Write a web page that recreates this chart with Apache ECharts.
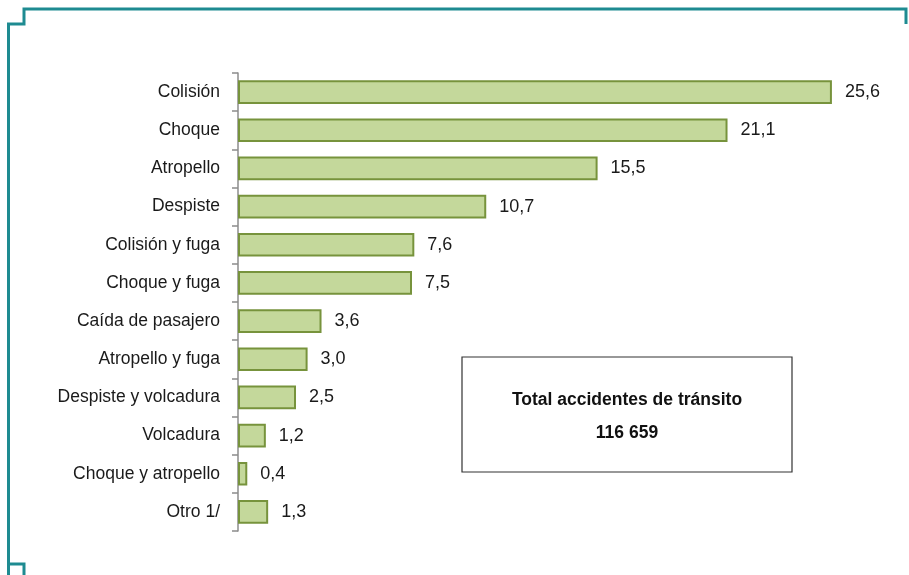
<!DOCTYPE html>
<html>
<head>
<meta charset="utf-8">
<script src="https://cdn.jsdelivr.net/npm/echarts@6/dist/echarts.min.js"></script>
<style>
  html, body { margin: 0; padding: 0; background: #fff; }
  #main { width: 909px; height: 575px; }
</style>
</head>
<body>
<div id="main"></div>
<script>
  // tipos de accidente (de arriba hacia abajo)
  const categories = ['Colisión', 'Choque', 'Atropello', 'Despiste', 'Colisión y fuga', 'Choque y fuga',
    'Caída de pasajero', 'Atropello y fuga', 'Despiste y volcadura', 'Volcadura', 'Choque y atropello', 'Otro 1/'];
  // porcentaje
  const values = [25.6, 21.1, 15.5, 10.7, 7.6, 7.5, 3.6, 3.0, 2.5, 1.2, 0.4, 1.3];
  const boxTitle = 'Total accidentes de tránsito';
  const boxTotal = '116 659';

  const teal = '#1e8b91';
  const font = '"Liberation Sans", Arial, sans-serif';
  let myChart = echarts.init(document.getElementById('main'));
  let option = {
    animation: false,
    textStyle: { fontFamily: font },
    grid: { left: 238, top: 73, height: 458, width: 649.6 },
    xAxis: {
      type: 'value', min: 0, max: 28, show: false
    },
    yAxis: {
      type: 'category',
      inverse: true,
      data: categories,
      axisLine: { lineStyle: { color: '#8c8c8c', width: 1.5 } },
      axisTick: { show: true, length: 6, lineStyle: { color: '#8c8c8c', width: 1.5 } },
      axisLabel: { color: '#1a1a1a', fontSize: 17.5, fontFamily: font, margin: 18 }
    },
    series: [{
      type: 'bar',
      data: values,
      barCategoryGap: '38%',
      itemStyle: { color: '#c4d89b', borderColor: '#77933c', borderWidth: 2 },
      label: {
        show: true, position: 'right', distance: 13, fontSize: 18, fontFamily: font, color: '#1a1a1a',
        formatter: p => p.value.toFixed(1).replace('.', ',')
      }
    }],
    graphic: [
      {
        type: 'polyline', silent: true,
        shape: { points: [[8.5, 575], [8.5, 24], [24, 24], [24, 9], [906, 9], [906, 24]] },
        style: { stroke: teal, lineWidth: 3, fill: null }
      },
      {
        type: 'polyline', silent: true,
        shape: { points: [[8.5, 530], [8.5, 564], [24, 564], [24, 575]] },
        style: { stroke: teal, lineWidth: 3, fill: null }
      },
      {
        type: 'rect', silent: true,
        shape: { x: 462, y: 357, width: 330, height: 115 },
        style: { stroke: '#333', lineWidth: 1.2, fill: '#fff' }
      },
      {
        type: 'text', silent: true, x: 627, y: 400,
        style: { text: boxTitle, align: 'center', verticalAlign: 'middle', fontSize: 17.5, fontWeight: 'bold',
          fill: '#111', fontFamily: font }
      },
      {
        type: 'text', silent: true, x: 627, y: 433,
        style: { text: boxTotal, align: 'center', verticalAlign: 'middle', fontSize: 17.5, fontWeight: 'bold',
          fill: '#111', fontFamily: font }
      }
    ]
  };
  myChart.setOption(option);
</script>
</body>
</html>
